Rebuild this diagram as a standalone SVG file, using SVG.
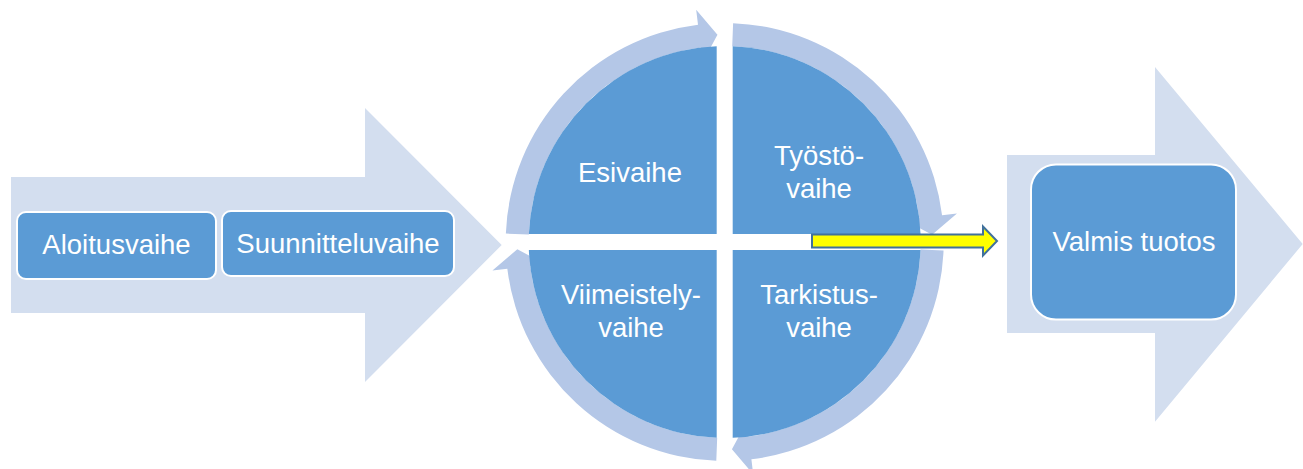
<svg xmlns="http://www.w3.org/2000/svg" width="1303" height="469" viewBox="0 0 1303 469">
  <style>
    .bigarrow { fill: #D3DEEF; }
    .ring { fill: #B4C7E7; }
    .pie { fill: #5B9BD5; }
    .box { fill: #5B9BD5; stroke: #FFFFFF; stroke-width: 2; }
    .lbl { font-family: "Liberation Sans", Arial, sans-serif; font-size: 27.5px; fill: #FFFFFF; text-anchor: middle; }
    .yellow { fill: #FFFF00; stroke: #41719C; stroke-width: 2; stroke-linejoin: miter; }
  </style>
  <defs>
    <path id="ringArc" d="M 8.41 -218.84 A 219 219 0 0 1 217.37 -26.69 L 232.26 -28.52 L 207.37 -7.24 L 179.65 -22.06 L 194.54 -23.89 A 196 196 0 0 0 7.52 -195.85 Z"/>
  </defs>

  <g id="background-arrows">
    <polygon class="bigarrow" points="11,177 365,177 365,108 501.7,245 365,382 365,313 11,313"/>
    <polygon class="bigarrow" points="1007,155 1155,155 1155,67 1302.7,244 1155,421.7 1155,333 1007,333"/>
  </g>

  <g id="connectors">
    <use href="#ringArc" class="ring" transform="translate(724.7 242) rotate(-90)"/>
    <use href="#ringArc" class="ring" transform="translate(724.7 242)"/>
    <use href="#ringArc" class="ring" transform="translate(724.7 242) rotate(90)"/>
    <use href="#ringArc" class="ring" transform="translate(724.7 242) rotate(180)"/>
  </g>

  <g id="node-aloitusvaihe">
    <rect class="box" x="17" y="212" width="199" height="67" rx="9"/>
    <text class="lbl" x="116.5" y="254">Aloitusvaihe</text>
  </g>

  <g id="node-suunnitteluvaihe">
    <rect class="box" x="222" y="211" width="232" height="65" rx="9"/>
    <text class="lbl" x="338" y="252.5">Suunnitteluvaihe</text>
  </g>

  <g id="node-esivaihe">
    <path class="pie" transform="translate(724.7 242)" d="M -8 -8 L -195.84 -8 A 196 196 0 0 1 -8 -195.84 Z"/>
    <text class="lbl" x="630" y="181.5">Esivaihe</text>
  </g>

  <g id="node-tyostovaihe">
    <path class="pie" transform="translate(724.7 242)" d="M 8 -8 L 8 -195.84 A 196 196 0 0 1 195.84 -8 Z"/>
    <text class="lbl" x="819" y="164.5">Työstö-</text>
    <text class="lbl" x="819" y="197.5">vaihe</text>
  </g>

  <g id="node-tarkistusvaihe">
    <path class="pie" transform="translate(724.7 242)" d="M 8 8 L 195.84 8 A 196 196 0 0 1 8 195.84 Z"/>
    <text class="lbl" x="819" y="303.5">Tarkistus-</text>
    <text class="lbl" x="819" y="337">vaihe</text>
  </g>

  <g id="node-viimeistelyvaihe">
    <path class="pie" transform="translate(724.7 242)" d="M -8 8 L -8 195.84 A 196 196 0 0 1 -195.84 8 Z"/>
    <text class="lbl" x="631" y="303.5">Viimeistely-</text>
    <text class="lbl" x="631" y="337">vaihe</text>
  </g>

  <g id="yellow-arrow">
    <polygon class="yellow" points="812,234.5 983,234.5 983,226.5 997,241 983,255.5 983,247.5 812,247.5"/>
  </g>

  <g id="node-valmis-tuotos">
    <rect class="box" x="1031" y="164.5" width="205" height="155" rx="25"/>
    <text class="lbl" x="1134" y="250.5">Valmis tuotos</text>
  </g>
</svg>
